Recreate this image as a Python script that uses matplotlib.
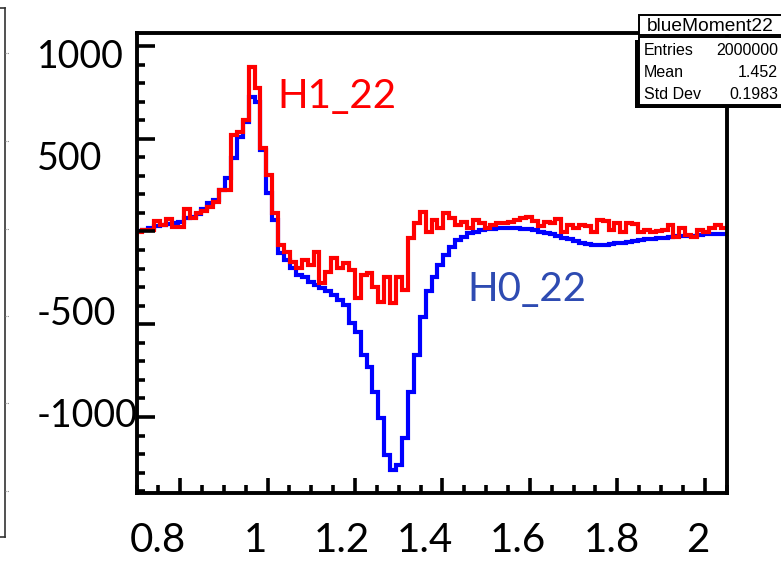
import numpy as np
import matplotlib
matplotlib.use("Agg")
import matplotlib.pyplot as plt
from matplotlib.patches import Rectangle
from matplotlib.lines import Line2D
from matplotlib.ticker import MultipleLocator

# ---- histogram contents (100 bins on 0.70 .. 2.05) ----
x_min, x_max, n_bins = 0.70, 2.05, 100

h0_22 = [
    3, 8, 17, 30, 35, 40, 48, 53, 71, 80,
    95, 119, 152, 170, 224, 287, 395, 508, 592, 727,
    700, 440, 206, 62, -115, -154, -199, -235, -247, -270,
    -288, -306, -319, -342, -369, -396, -495, -540, -666, -729,
    -863, -1007, -1205, -1286, -1259, -1115, -863, -666, -459, -320,
    -243, -181, -127, -82, -46, -28, -10, -1, 8, 12,
    14, 17, 19, 21, 19, 15, 12, 6, -1, -6,
    -15, -24, -33, -42, -49, -60, -67, -71, -73, -73,
    -69, -64, -60, -55, -49, -46, -42, -39, -37, -33,
    -30, -26, -24, -24, -24, -21, -12, -12, -13, -15,
]

h1_22 = [
    -5, 8, 8, 58, 35, 67, 26, 26, 120, 71,
    98, 112, 134, 161, 224, 224, 520, 538, 601, 889,
    772, 448, 305, 98, -73, -109, -163, -199, -154, -181,
    -109, -279, -217, -145, -199, -172, -208, -360, -235, -222,
    -297, -378, -243, -387, -245, -315, -37, 44, 107, -1,
    62, 17, 98, 71, 35, 53, 17, 62, 44, 17,
    35, 44, 44, 53, 62, 71, 80, 58, 30, 53,
    44, 66, -1, 35, 17, 35, 30, -1, 62, 58,
    8, 44, -1, 44, 40, -1, 8, -1, 4, 8,
    35, -28, 17, -19, -28, 8, -1, 17, 35, 17,
]

x_tick_labels = ["0.8", "1", "1.2", "1.4", "1.6", "1.8", "2"]
y_tick_labels = ["1000", "500", "-500", "-1000"]

stats_title = "blueMoment22"
stats_rows = [("Entries", "2000000"), ("Mean", "1.452"), ("Std Dev", "0.1983")]

# ---- figure in pixel units ----
W, H = 781, 563
fig = plt.figure(figsize=(W / 100, H / 100), dpi=100)
fig.patch.set_facecolor("white")


def fx(px):
    return px / W


def fy(py):
    return 1 - py / H


ax_l, ax_r, ax_t, ax_b = 136.5, 726.5, 33, 493
ax = fig.add_axes([fx(ax_l), fy(ax_b), (ax_r - ax_l) / W, (ax_b - ax_t) / H])

edges = np.linspace(x_min, x_max, n_bins + 1)
line_kw = dict(lw=3.0, baseline=None, joinstyle="miter", capstyle="butt")
ax.stairs(h0_22, edges, color="#0000ff", **line_kw)
ax.stairs(h1_22, edges, color="#ff0000", **line_kw)

ax.set_xlim(x_min, x_max)
ax.set_ylim(-1410, 1070)

ax.xaxis.set_major_locator(MultipleLocator(0.2))
ax.xaxis.set_minor_locator(MultipleLocator(0.05))
ax.yaxis.set_major_locator(MultipleLocator(500))
ax.yaxis.set_minor_locator(MultipleLocator(100))
ax.tick_params(which="both", direction="in", labelbottom=False, labelleft=False,
               top=False, right=False, width=2.6, color="black")
ax.tick_params(axis="x", which="major", length=11)
ax.tick_params(axis="y", which="major", length=13)
ax.tick_params(axis="both", which="minor", length=6)
for sp in ax.spines.values():
    sp.set_linewidth(2.8)
    sp.set_color("black")

# ---- axis number labels ----
lab_font = dict(family="Lato", color="black")
x_lab_px = [158, 255, 342, 425, 518, 612, 698]
for lab, px in zip(x_tick_labels, x_lab_px):
    fig.text(fx(px), fy(552), lab, ha="center", va="baseline", fontsize=29, **lab_font)
y_lab_base = [68, 170, 325, 427]
for lab, py in zip(y_tick_labels, y_lab_base):
    fig.text(fx(37), fy(py), lab, ha="left", va="baseline", fontsize=27, **lab_font)

# ---- series names ----
fig.text(fx(277), fy(108), "H1_22", color="#ff0000", fontsize=29, family="Lato",
         ha="left", va="baseline")
fig.text(fx(467), fy(301), "H0_22", color="#2e4bb2", fontsize=29, family="Lato",
         ha="left", va="baseline")

# ---- statistics box ----
def rect_px(x0, y0, x1, y1, **kw):
    r = Rectangle((fx(x0), fy(y1)), (x1 - x0) / W, (y1 - y0) / H,
                  transform=fig.transFigure, **kw)
    fig.add_artist(r)
    return r


rect_px(635, 40, 800, 108, facecolor="black", edgecolor="none", zorder=5)
rect_px(639, 37, 800, 105, facecolor="white", edgecolor="black", lw=1.4, zorder=6)
rect_px(639, 15, 800, 35, facecolor="white", edgecolor="black", lw=1.4, zorder=6)

st_font = dict(family="Liberation Sans", color="black", zorder=7)
fig.text(fx(647), fy(31), stats_title, ha="left", va="baseline", fontsize=13.8, **st_font)
row_base = [55, 77, 99]
for (k, v), py in zip(stats_rows, row_base):
    fig.text(fx(644), fy(py), k, ha="left", va="baseline", fontsize=11.5, **st_font)
    fig.text(fx(778), fy(py), v, ha="right", va="baseline", fontsize=11.5, **st_font)

# ---- edge of the neighbouring pad ----
pad_kw = dict(transform=fig.transFigure, color="#333333", lw=1.2)
fig.add_artist(Line2D([fx(5), fx(5)], [fy(8), fy(537)], **pad_kw))
fig.add_artist(Line2D([fx(0), fx(5)], [fy(8), fy(8)], **pad_kw))
fig.add_artist(Line2D([fx(0), fx(5)], [fy(537), fy(537)], **pad_kw))
for py in [53, 141, 229, 316, 403, 491]:
    fig.add_artist(Line2D([fx(5), fx(9)], [fy(py), fy(py)], transform=fig.transFigure,
                          color="#888888", lw=0.8, ls=(0, (1, 1))))

fig.savefig("out.png", dpi=100)
